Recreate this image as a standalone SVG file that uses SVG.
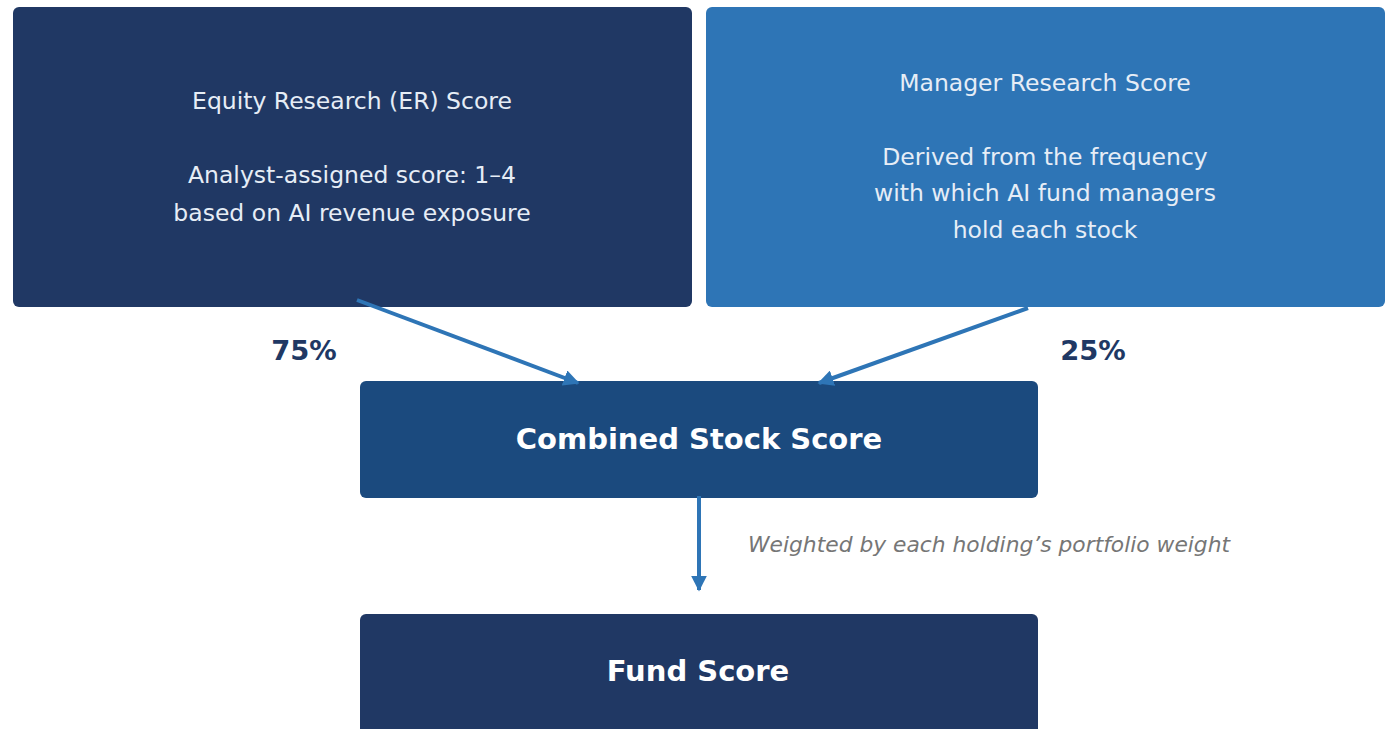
<svg xmlns="http://www.w3.org/2000/svg" width="1388" height="729" viewBox="0 0 1388 729">
<style>
.box{stroke:none}
.sub{font-family:"DejaVu Sans",sans-serif;font-size:23.5px;fill:#E6EDF6;text-anchor:middle}
.big{font-family:"DejaVu Sans",sans-serif;font-weight:bold;fill:#FFFFFF;text-anchor:middle}
.pct{font-family:"DejaVu Sans",sans-serif;font-weight:bold;font-size:27.4px;fill:#203864;text-anchor:middle}
.note{font-family:"DejaVu Sans",sans-serif;font-style:italic;font-size:21.8px;fill:#767676}
.conn{stroke:#2E75B6;stroke-width:4;fill:none;marker-end:url(#ah)}
</style>
<defs>
<marker id="ah" viewBox="0 0 10 10" refX="9" refY="5" markerWidth="4" markerHeight="4" orient="auto" markerUnits="strokeWidth">
<path d="M0,0 L10,5 L0,10 Z" fill="#2E75B6"/>
</marker>
</defs>
<rect width="1388" height="729" fill="#FFFFFF"/>
<g id="er">
<rect class="box" x="13" y="7" width="679" height="300" rx="6" fill="#203864"/>
<text class="sub" x="352" y="108.5">Equity Research (ER) Score</text>
<text class="sub" x="352" y="182.5">Analyst-assigned score: 1–4</text>
<text class="sub" x="352" y="220.5">based on AI revenue exposure</text>
</g>
<g id="mr">
<rect class="box" x="706" y="7" width="679" height="300" rx="6" fill="#2E75B6"/>
<text class="sub" x="1045" y="90.5">Manager Research Score</text>
<text class="sub" x="1045" y="164.5">Derived from the frequency</text>
<text class="sub" x="1045" y="200.5">with which AI fund managers</text>
<text class="sub" x="1045" y="237.5">hold each stock</text>
</g>
<g id="combined">
<rect class="box" x="360" y="381" width="678" height="117" rx="6" fill="#1B4A7E"/>
<text class="big" x="699" y="449" font-size="29">Combined Stock Score</text>
</g>
<g id="fund">
<rect class="box" x="360" y="614" width="678" height="130" rx="6" fill="#203864"/>
<text class="big" x="698" y="681" font-size="29">Fund Score</text>
</g>
<g id="labels">
<text class="pct" x="304" y="360">75%</text>
<text class="pct" x="1093" y="360">25%</text>
<text class="note" x="748" y="552">Weighted by each holding’s portfolio weight</text>
</g>
<g id="connectors">
<line class="conn" x1="357" y1="300" x2="578" y2="383"/>
<line class="conn" x1="1028" y1="308" x2="819" y2="383"/>
<line class="conn" x1="699" y1="496" x2="699" y2="590"/>
</g>
</svg>
